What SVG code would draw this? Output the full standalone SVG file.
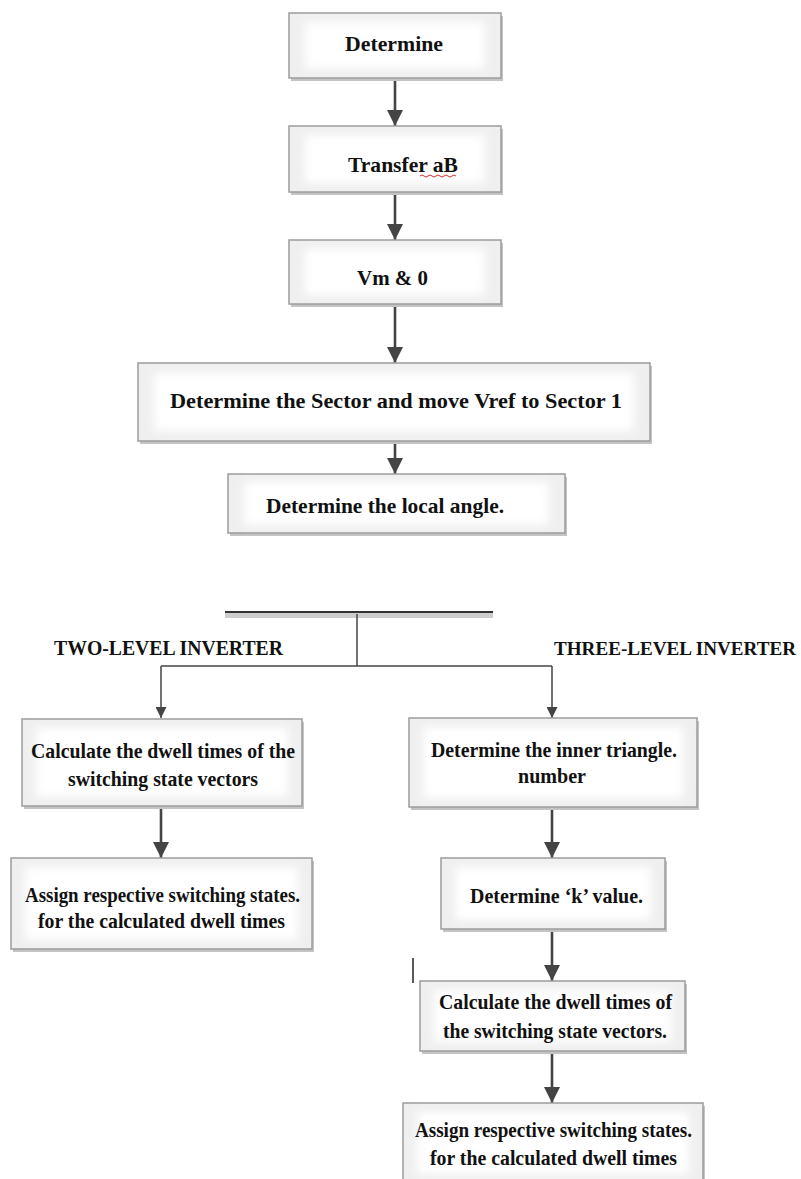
<svg xmlns="http://www.w3.org/2000/svg" width="801" height="1179" viewBox="0 0 801 1179">
<style>
.bx{fill:#efefef;stroke:#9c9c9c;stroke-width:1.5}
.sh{fill:#c4c4c4}
.in{fill:#ffffff;filter:url(#blur)}
.t{font-family:"Liberation Serif","Times New Roman",serif;font-weight:bold;fill:#111}
.t22{font-size:22px}
.t21{font-size:22px}
.lab{font-family:"Liberation Serif","Times New Roman",serif;font-weight:bold;font-size:20px;fill:#111}
.ar{stroke:#444;stroke-width:2.6;fill:none;marker-end:url(#ah)}
.ln{stroke:#444;stroke-width:1.5;fill:none}
.ar2{stroke:#444;stroke-width:1.5;fill:none;marker-end:url(#ah2)}
</style>
<defs>
<filter id="blur" x="-20%" y="-40%" width="140%" height="180%"><feGaussianBlur stdDeviation="4"/></filter>
<marker id="ah" viewBox="0 0 16 16" refX="16" refY="8" markerWidth="16" markerHeight="16" markerUnits="userSpaceOnUse" orient="auto"><path d="M0,0 L16,8 L0,16 z" fill="#444"/></marker>
<marker id="ah2" viewBox="0 0 12 12" refX="12" refY="6" markerWidth="12" markerHeight="11" markerUnits="userSpaceOnUse" orient="auto"><path d="M0,0 L12,6 L0,12 z" fill="#444"/></marker>
</defs>
<rect width="801" height="1179" fill="#fff"/>

<g id="connectors">
<line class="ar" x1="395" y1="78" x2="395" y2="126"/>
<line class="ar" x1="395" y1="192" x2="395" y2="240"/>
<line class="ar" x1="395" y1="304" x2="395" y2="363"/>
<line class="ar" x1="395" y1="441" x2="395" y2="474"/>
<rect x="225" y="613" width="268" height="5" fill="#cdcdcd"/>
<line x1="225" y1="612" x2="493" y2="612" stroke="#333" stroke-width="2"/>
<line class="ln" x1="357" y1="614" x2="357" y2="666"/>
<line class="ln" x1="161" y1="666" x2="552" y2="666"/>
<line class="ar2" x1="161" y1="666" x2="161" y2="718"/>
<line class="ar2" x1="552" y1="666" x2="552" y2="718"/>
<line class="ar" x1="161" y1="806" x2="161" y2="858"/>
<line class="ar" x1="552" y1="807" x2="552" y2="858"/>
<line class="ar" x1="552" y1="929" x2="552" y2="981"/>
<line class="ar" x1="552" y1="1051" x2="552" y2="1103"/>
<line x1="413" y1="958" x2="413" y2="983" stroke="#222" stroke-width="1.5"/>
</g>

<g id="n1">
<rect class="sh" x="291" y="16" width="212" height="65"/>
<rect class="bx" x="289" y="13" width="212" height="65"/>
<rect class="in" x="305" y="22" width="180" height="47"/>
<text class="t t22" x="345" y="51" textLength="98" lengthAdjust="spacingAndGlyphs">Determine</text>
</g>
<g id="n2">
<rect class="sh" x="291" y="129" width="212" height="66"/>
<rect class="bx" x="289" y="126" width="212" height="66"/>
<rect class="in" x="305" y="135" width="180" height="48"/>
<text class="t t22" x="348" y="172" textLength="110" lengthAdjust="spacingAndGlyphs">Transfer aB</text>
<path d="M420,176 q2,-2 4,0 t4,0 t4,0 t4,0 t4,0 t4,0 t4,0 t4,0 t4,0" fill="none" stroke="#d03030" stroke-width="1"/>
</g>
<g id="n3">
<rect class="sh" x="291" y="243" width="212" height="64"/>
<rect class="bx" x="289" y="240" width="212" height="64"/>
<rect class="in" x="305" y="249" width="180" height="46"/>
<text class="t t22" x="357" y="285" textLength="71" lengthAdjust="spacingAndGlyphs">Vm &amp; 0</text>
</g>
<g id="n4">
<rect class="sh" x="140" y="366" width="512" height="78"/>
<rect class="bx" x="138" y="363" width="512" height="78"/>
<rect class="in" x="154" y="373" width="480" height="58"/>
<text class="t t22" x="170" y="408" textLength="452" lengthAdjust="spacingAndGlyphs">Determine the Sector and move Vref to Sector 1</text>
</g>
<g id="n5">
<rect class="sh" x="230" y="477" width="337" height="59"/>
<rect class="bx" x="228" y="474" width="337" height="59"/>
<rect class="in" x="244" y="482" width="305" height="43"/>
<text class="t t22" x="266" y="513" textLength="238" lengthAdjust="spacingAndGlyphs">Determine the local angle.</text>
</g>

<g id="label-two">
<text class="lab" x="54" y="655" textLength="229" lengthAdjust="spacingAndGlyphs">TWO-LEVEL INVERTER</text>
</g>
<g id="label-three">
<text class="lab" x="554" y="655" font-size="19" style="font-size:19px" textLength="242" lengthAdjust="spacingAndGlyphs">THREE-LEVEL INVERTER</text>
</g>

<g id="l1">
<rect class="sh" x="24" y="722" width="280" height="87"/>
<rect class="bx" x="22" y="719" width="280" height="87"/>
<rect class="in" x="36" y="728" width="252" height="69"/>
<text class="t t21" x="31" y="758" textLength="264" lengthAdjust="spacingAndGlyphs">Calculate the dwell times of the</text>
<text class="t t21" x="68" y="786" textLength="190" lengthAdjust="spacingAndGlyphs">switching state vectors</text>
</g>
<g id="l2">
<rect class="sh" x="13" y="861" width="301" height="91"/>
<rect class="bx" x="11" y="858" width="301" height="91"/>
<rect class="in" x="25" y="867" width="273" height="73"/>
<text class="t t21" x="25" y="902" textLength="275" lengthAdjust="spacingAndGlyphs">Assign respective switching states.</text>
<text class="t t21" x="38" y="928" textLength="247" lengthAdjust="spacingAndGlyphs">for the calculated dwell times</text>
</g>

<g id="r1">
<rect class="sh" x="411" y="721" width="288" height="89"/>
<rect class="bx" x="409" y="718" width="288" height="89"/>
<rect class="in" x="423" y="727" width="260" height="71"/>
<text class="t t21" x="431" y="757" textLength="246" lengthAdjust="spacingAndGlyphs">Determine the inner triangle.</text>
<text class="t t21" x="518" y="783" textLength="68" lengthAdjust="spacingAndGlyphs">number</text>
</g>
<g id="r2">
<rect class="sh" x="443" y="861" width="224" height="71"/>
<rect class="bx" x="441" y="858" width="224" height="71"/>
<rect class="in" x="455" y="867" width="196" height="53"/>
<text class="t t21" x="470" y="903" textLength="173" lengthAdjust="spacingAndGlyphs">Determine ‘k’ value.</text>
</g>
<g id="r3">
<rect class="sh" x="422" y="984" width="265" height="70"/>
<rect class="bx" x="420" y="981" width="265" height="70"/>
<rect class="in" x="434" y="990" width="237" height="52"/>
<text class="t t21" x="439" y="1009" textLength="233" lengthAdjust="spacingAndGlyphs">Calculate the dwell times of</text>
<text class="t t21" x="443" y="1038" textLength="224" lengthAdjust="spacingAndGlyphs">the switching state vectors.</text>
</g>
<g id="r4">
<rect class="sh" x="405" y="1106" width="300" height="80"/>
<rect class="bx" x="403" y="1103" width="300" height="80"/>
<rect class="in" x="417" y="1112" width="272" height="62"/>
<text class="t t21" x="415" y="1137" textLength="277" lengthAdjust="spacingAndGlyphs">Assign respective switching states.</text>
<text class="t t21" x="430" y="1165" textLength="247" lengthAdjust="spacingAndGlyphs">for the calculated dwell times</text>
</g>
</svg>
